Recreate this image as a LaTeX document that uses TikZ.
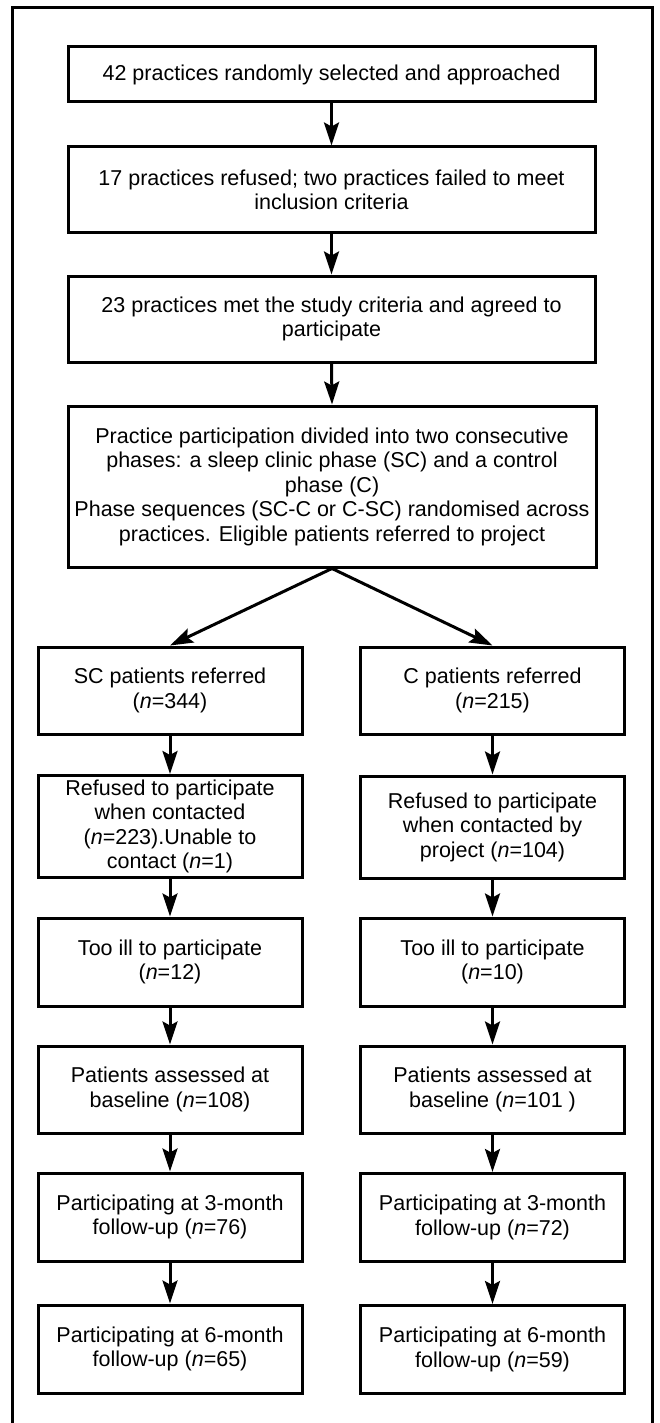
\documentclass[tikz,border=0pt]{standalone}
\usepackage{fontspec}
\setmainfont{Liberation Sans}
\usetikzlibrary{arrows.meta}
\begin{document}
\begin{tikzpicture}[x=1pt,y=-1pt,
  box/.style={draw=black, line width=3pt, align=center, inner sep=0pt,
    font=\fontsize{21.5}{24.5}\selectfont},
  wide/.style={box, minimum width=527pt},
  col/.style={box, minimum width=264pt},
  conn/.style={line width=3pt, -{Stealth[length=23pt,width=15pt,inset=4pt]}},
  frame/.style={line width=3pt}]
\useasboundingbox (0,0) rectangle (659,1423);
\draw[frame] (12.7,1440) -- (12.7,7.3) -- (652,7.3) -- (652,1440);

\node[wide, minimum height=55pt] (b1) at (331.5,74.5) {42 practices randomly selected and approached};
\node[wide, minimum height=86pt] (b2) at (331.5,190) {17 practices refused; two practices failed to meet\\inclusion criteria};
\node[wide, minimum height=86pt] (b3) at (331.5,319) {23 practices met the study criteria and agreed to\\participate};
\node[wide, minimum height=161pt, minimum width=528pt] (b4) at (332,486.5) {Practice participation divided into two consecutive\\phases: a sleep clinic phase (SC) and a control\\phase (C)\\Phase sequences (SC-C or C-SC) randomised across\\practices. Eligible patients referred to project};

\node[col, minimum height=87pt] (l1) at (170,690.5) {SC patients referred\\(\textit{n}=344)};
\node[col, minimum height=102pt] (l2) at (170,826.5) {Refused to participate\\when contacted\\(\textit{n}=223).Unable to\\contact (\textit{n}=1)};
\node[col, minimum height=88pt] (l3) at (170,962) {Too ill to participate\\(\textit{n}=12)};
\node[col, minimum height=87pt] (l4) at (170,1089.5) {Patients assessed at\\baseline (\textit{n}=108)};
\node[col, minimum height=88pt] (l5) at (170,1217) {Participating at 3-month\\follow-up (\textit{n}=76)};
\node[col, minimum height=88pt] (l6) at (170,1349) {Participating at 6-month\\follow-up (\textit{n}=65)};

\node[col, minimum height=87pt] (r1) at (492.5,690.5) {C patients referred\\(\textit{n}=215)};
\node[col, minimum height=102pt] (r2) at (492.5,827) {Refused to participate\\when contacted by\\project (\textit{n}=104)};
\node[col, minimum height=88pt] (r3) at (492.5,962) {Too ill to participate\\(\textit{n}=10)};
\node[col, minimum height=87pt] (r4) at (492.5,1089.5) {Patients assessed at\\baseline (\textit{n}=101 )};
\node[col, minimum height=88pt] (r5) at (492.5,1217.5) {Participating at 3-month\\follow-up (\textit{n}=72)};
\node[col, minimum height=88pt] (r6) at (492.5,1349.5) {Participating at 6-month\\follow-up (\textit{n}=59)};

\draw[conn] (b1.south) -- (b2.north);
\draw[conn] (b2.south) -- (b3.north);
\draw[conn] (b3.south) -- (b4.north);
\draw[conn] (b4.south) -- (l1.north);
\draw[conn] (b4.south) -- (r1.north);
\foreach \a/\b in {l1/l2,l2/l3,l3/l4,l4/l5,l5/l6,r1/r2,r2/r3,r3/r4,r4/r5,r5/r6}
  \draw[conn] (\a.south) -- (\b.north);
\end{tikzpicture}
\end{document}
